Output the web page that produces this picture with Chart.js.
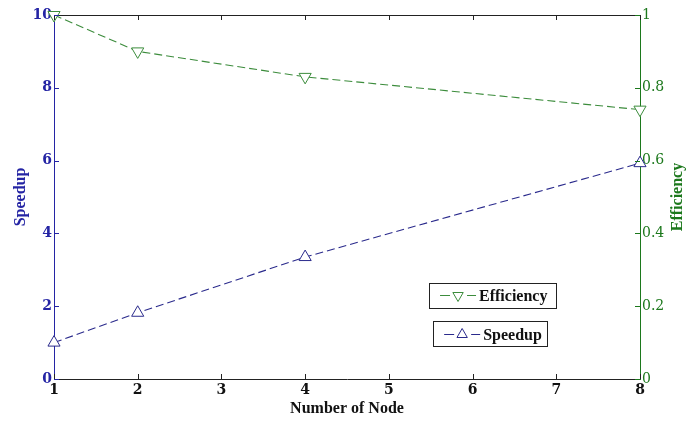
<!DOCTYPE html>
<html>
<head>
<meta charset="utf-8">
<script src="https://cdn.jsdelivr.net/npm/chart.js@4/dist/chart.umd.min.js"></script>
<style>
  html, body { margin: 0; padding: 0; background: #fff; }
  #wrap { width: 687px; height: 421px; }
</style>
</head>
<body>
<div id="wrap"><canvas id="myChart"></canvas></div>
<script>
// data
var nodes = [1, 2, 4, 8];
var speedup = [1.0, 1.82, 3.35, 5.93];
var efficiency = [1.0, 0.9, 0.83, 0.74];
var nodeTicks = [1, 2, 3, 4, 5, 6, 7, 8];
var speedupTicks = [0, 2, 4, 6, 8, 10];
var efficiencyTicks = [0, 0.2, 0.4, 0.6, 0.8, 1];

var BLUE = '#2424a4';
var BLUE_LINE = '#2a2a8c';
var GREEN = '#1c781c';
var GREEN_LINE = '#3c8c3c';
var FONT = 'DejaVu Serif';
var TEXT_FONT = 'Liberation Serif';

function toPoints(xs, ys) {
    var pts = [];
    for (var i = 0; i < xs.length; i++) {
        pts.push({ x: xs[i], y: ys[i] });
    }
    return pts;
}

function fixedTicks(list) {
    return function (scale) {
        scale.ticks = list.map(function (v) { return { value: v }; });
    };
}

// small inward tick marks + top frame line (like the matlab box)
var innerTicks = {
    id: 'innerTicks',
    afterDraw: function (chart) {
        var ctx = chart.ctx;
        var a = chart.chartArea;
        var len = 5;
        var x = chart.scales.x, y = chart.scales.y, y1 = chart.scales.y1;
        ctx.save();
        ctx.lineWidth = 1;
        // top line
        ctx.strokeStyle = '#222';
        ctx.beginPath();
        ctx.moveTo(a.left, Math.round(a.top) + 0.5);
        ctx.lineTo(a.right, Math.round(a.top) + 0.5);
        ctx.stroke();
        x.ticks.forEach(function (t, i) {
            var px = Math.round(x.getPixelForTick(i)) + 0.5;
            ctx.beginPath();
            ctx.moveTo(px, a.bottom);
            ctx.lineTo(px, a.bottom - len);
            ctx.moveTo(px, a.top);
            ctx.lineTo(px, a.top + len);
            ctx.stroke();
        });
        ctx.strokeStyle = BLUE;
        y.ticks.forEach(function (t, i) {
            var py = Math.round(y.getPixelForTick(i)) + 0.5;
            ctx.beginPath();
            ctx.moveTo(a.left, py);
            ctx.lineTo(a.left + len, py);
            ctx.stroke();
        });
        ctx.strokeStyle = GREEN;
        y1.ticks.forEach(function (t, i) {
            var py = Math.round(y1.getPixelForTick(i)) + 0.5;
            ctx.beginPath();
            ctx.moveTo(a.right, py);
            ctx.lineTo(a.right - len, py);
            ctx.stroke();
        });
        // right axis title, reading bottom to top
        ctx.translate(chart.width - 9, (a.top + a.bottom) / 2);
        ctx.rotate(-Math.PI / 2);
        ctx.fillStyle = GREEN;
        ctx.font = 'bold 16px ' + TEXT_FONT;
        ctx.textAlign = 'center';
        ctx.textBaseline = 'middle';
        ctx.fillText('Efficiency', 0, 0);
        ctx.restore();
    }
};

// two separate boxed legends, drawn from the dataset styles
var boxLegends = {
    id: 'boxLegends',
    afterDraw: function (chart) {
        var ctx = chart.ctx;
        var a = chart.chartArea;
        var w = a.right - a.left, h = a.bottom - a.top;
        var boxes = [
            { ds: 1, left: 0.64, top: 0.735, width: 0.217, height: 0.068 },
            { ds: 0, left: 0.647, top: 0.84, width: 0.194, height: 0.07 }
        ];
        ctx.save();
        boxes.forEach(function (b) {
            var ds = chart.data.datasets[b.ds];
            var bx = a.left + b.left * w, by = a.top + b.top * h;
            var bw = b.width * w, bh = b.height * h;
            ctx.fillStyle = '#fff';
            ctx.fillRect(bx, by, bw, bh);
            ctx.strokeStyle = '#222';
            ctx.lineWidth = 1;
            ctx.strokeRect(Math.round(bx) + 0.5, Math.round(by) + 0.5, Math.round(bw), Math.round(bh));
            var cy = Math.round(by + bh / 2) + 0.5;
            var lx = bx + 11;
            ctx.strokeStyle = ds.borderColor;
            ctx.beginPath();
            ctx.moveTo(lx, cy);
            ctx.lineTo(lx + 10, cy);
            ctx.moveTo(lx + 27, cy);
            ctx.lineTo(lx + 36, cy);
            ctx.stroke();
            Chart.helpers.drawPoint(ctx, {
                pointStyle: 'triangle',
                radius: 6,
                rotation: ds.pointRotation || 0,
                borderWidth: 1
            }, lx + 18, cy);
            ctx.fillStyle = '#111';
            ctx.font = 'bold 16px ' + TEXT_FONT;
            ctx.textBaseline = 'middle';
            ctx.textAlign = 'left';
            ctx.fillText(ds.label, lx + 39, cy + 1);
        });
        ctx.restore();
    }
};

var ctx = document.getElementById('myChart');
var myChart = new Chart(ctx, {
    type: 'line',
    data: {
        datasets: [
            {
                label: 'Speedup',
                data: toPoints(nodes, speedup),
                yAxisID: 'y',
                borderColor: BLUE_LINE,
                borderWidth: 1.1,
                borderDash: [8, 4],
                pointStyle: 'triangle',
                pointRadius: 7,
                pointBorderColor: BLUE_LINE,
                pointBackgroundColor: 'rgba(255,255,255,1)',
                pointBorderWidth: 1,
                tension: 0
            },
            {
                label: 'Efficiency',
                data: toPoints(nodes, efficiency),
                yAxisID: 'y1',
                borderColor: GREEN_LINE,
                borderWidth: 1.1,
                borderDash: [8, 4],
                pointStyle: 'triangle',
                pointRotation: 180,
                pointRadius: 7,
                pointBorderColor: GREEN_LINE,
                pointBackgroundColor: 'rgba(255,255,255,1)',
                pointBorderWidth: 1,
                tension: 0
            }
        ]
    },
    options: {
        responsive: true,
        maintainAspectRatio: false,
        animation: false,
        clip: false,
        layout: { padding: { top: 15, left: 0, right: 0, bottom: 0 } },
        plugins: {
            legend: { display: false },
            tooltip: { enabled: false }
        },
        scales: {
            x: {
                type: 'linear',
                min: 1,
                max: 8,
                afterBuildTicks: fixedTicks(nodeTicks),
                grid: { drawOnChartArea: false, drawTicks: false },
                border: { display: true, color: '#222', width: 1 },
                ticks: { color: '#111', padding: 3, font: { family: FONT, weight: 'bold', size: 14 } },
                title: {
                    display: true,
                    text: 'Number of Node',
                    color: '#111',
                    padding: { top: 0, bottom: 3 },
                    font: { family: TEXT_FONT, weight: 'bold', size: 16 }
                },
                afterFit: function (scale) { scale.height = 42; }
            },
            y: {
                position: 'left',
                min: 0,
                max: 10,
                afterBuildTicks: fixedTicks(speedupTicks),
                grid: { drawOnChartArea: false, drawTicks: false },
                border: { display: true, color: BLUE, width: 1 },
                ticks: { color: BLUE, padding: 2, font: { family: FONT, weight: 'bold', size: 14 } },
                title: {
                    display: true,
                    text: 'Speedup',
                    color: BLUE,
                    padding: { top: 11, bottom: 0 },
                    font: { family: TEXT_FONT, weight: 'bold', size: 16 }
                },
                afterFit: function (scale) { scale.width = 54; }
            },
            y1: {
                position: 'right',
                min: 0,
                max: 1,
                afterBuildTicks: fixedTicks(efficiencyTicks),
                grid: { drawOnChartArea: false, drawTicks: false },
                border: { display: true, color: GREEN, width: 1 },
                ticks: {
                    color: GREEN,
                    padding: 2,
                    font: { family: FONT, size: 14 },
                    callback: function (v) { return String(Math.round(v * 10) / 10); }
                },
                title: { display: false },
                afterFit: function (scale) { scale.width = 47; }
            }
        }
    },
    plugins: [innerTicks, boxLegends]
});
</script>
</body>
</html>
